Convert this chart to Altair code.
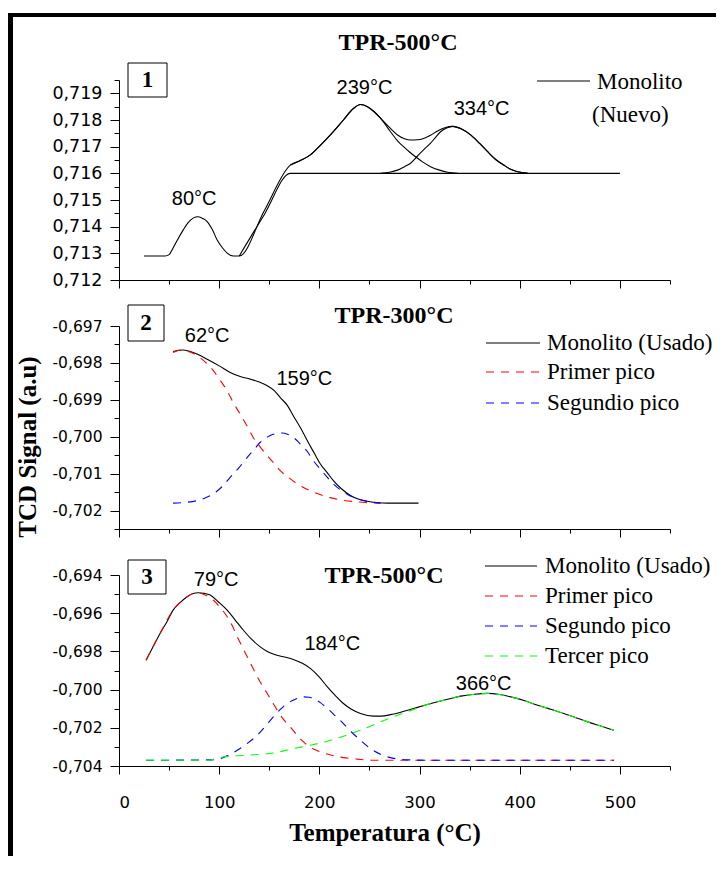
import altair as alt
import pandas as pd

# ---------------- data ----------------
# Panel 1: TPR-500°C, Monolito (Nuevo)
p1_total_T = [25, 46, 50, 54, 59, 64, 69, 74, 79, 84, 88, 93, 98, 103, 108, 114, 120, 145, 171,
              181, 191, 201, 211, 224, 234, 241, 248, 255, 261, 270, 278, 285, 291, 298, 304,
              311, 318, 326, 333, 342, 351, 360, 368, 376, 384, 391, 398, 408]
p1_total_V = [0.7129, 0.7129, 0.71295, 0.7132, 0.71355, 0.71387, 0.71415, 0.71432, 0.71437, 0.71430,
              0.71419, 0.71390, 0.7135, 0.71322, 0.71301, 0.7129, 0.7129, 0.71460, 0.71631,
              0.71648, 0.71669, 0.71705, 0.71744, 0.71800, 0.71843, 0.71858, 0.71850, 0.71830,
              0.71807, 0.71772, 0.71744, 0.71730, 0.71725, 0.71726, 0.71731, 0.71743, 0.71759,
              0.71772, 0.71776, 0.71766, 0.71744, 0.71712, 0.71681, 0.71652, 0.71631, 0.71615,
              0.71606, 0.7160]
p1_base_T = [120, 145, 171, 500]
p1_base_V = [0.7129, 0.71445, 0.7160, 0.7160]
p1_g1_T = [171, 181, 191, 201, 211, 224, 234, 241, 248, 255, 261, 271, 278, 284, 290, 296, 303,
           311, 320, 328, 338]
p1_g1_V = [0.71631, 0.71648, 0.71669, 0.71705, 0.71744, 0.71800, 0.71843, 0.71858, 0.71850,
           0.71830, 0.71807, 0.71756, 0.71722, 0.71700, 0.71680, 0.71662, 0.71643, 0.71625,
           0.71612, 0.71604, 0.7160]
p1_g2_T = [261, 270, 278, 285, 291, 298, 304, 311, 316, 321, 327, 333, 342, 351, 360, 368, 376,
           384, 391, 398, 408]
p1_g2_V = [0.7160, 0.71604, 0.71612, 0.71625, 0.71638, 0.71665, 0.71688, 0.71713, 0.71735,
           0.71756, 0.71770, 0.71776, 0.71766, 0.71744, 0.71712, 0.71681, 0.71652, 0.71631,
           0.71615, 0.71606, 0.7160]
p1_labels = ["80°C", "239°C", "334°C"]
p1_label_T = [75, 245, 362]
p1_label_V = [0.71504, 0.7192, 0.71841]

# Panel 2: TPR-300°C, Monolito (Usado)
p2_total_T = [54, 64, 76, 88, 100, 111, 121, 131, 140, 148, 155, 161, 168, 174, 181, 188, 195,
              201, 208, 214, 222, 231, 240, 248, 258, 268, 299]
p2_total_V = [-0.69769, -0.69765, -0.69774, -0.6979, -0.69808, -0.69826, -0.69837, -0.69844,
              -0.69852, -0.69862, -0.69875, -0.69894, -0.69915, -0.69943, -0.69975, -0.70011,
              -0.70045, -0.70074, -0.70098, -0.70119, -0.70141, -0.70159, -0.70170, -0.70175,
              -0.70179, -0.7018, -0.7018]
p2_red_T = [54, 62, 68, 75, 81, 87, 93, 100, 108, 114, 121, 128, 134, 141, 148, 155, 161, 170,
            178, 186, 194, 207, 221, 240, 261]
p2_red_V = [-0.69772, -0.69765, -0.69768, -0.69775, -0.69786, -0.69800, -0.69817, -0.69843,
            -0.69876, -0.69907, -0.69939, -0.69972, -0.70002, -0.70028, -0.70051, -0.70073,
            -0.70092, -0.70112, -0.70128, -0.7014, -0.7015, -0.70162, -0.70171, -0.70177, -0.7018]
p2_blue_T = [54, 66, 78, 86, 94, 103, 111, 120, 128, 135, 141, 150, 158, 163, 168, 175, 181, 188,
             194, 201, 208, 214, 221, 229, 238, 248, 261]
p2_blue_V = [-0.7018, -0.70178, -0.70173, -0.70166, -0.70155, -0.70135, -0.7011, -0.70083,
             -0.70056, -0.70034, -0.70015, -0.69998, -0.69991, -0.69990, -0.69993, -0.70004,
             -0.7002, -0.7004, -0.70065, -0.70088, -0.7011, -0.70128, -0.70144, -0.70158,
             -0.70168, -0.70175, -0.7018]
p2_labels = ["62°C", "159°C"]
p2_label_T = [88, 185]
p2_label_V = [-0.69727, -0.69843]

# Panel 3: TPR-500°C, Monolito (Usado)
p3_total_T = [27, 34, 41, 48, 54, 61, 68, 74, 79, 85, 91, 99, 108, 116, 124, 132, 141, 148, 154,
              164, 174, 183, 191, 200, 208, 216, 224, 232, 241, 254, 262, 271, 282, 294, 306, 318,
              330, 341, 355, 368, 380, 391, 405, 418, 431, 444, 456, 468, 481, 494]
p3_total_V = [-0.69846, -0.69776, -0.69706, -0.69643, -0.69584, -0.69545, -0.69514, -0.69497,
              -0.69493, -0.69496, -0.69505, -0.69540, -0.69584, -0.69636, -0.69688, -0.69735,
              -0.69776, -0.69800, -0.69814, -0.69828, -0.69842, -0.69862, -0.69889, -0.69935,
              -0.69986, -0.70032, -0.70073, -0.70103, -0.70125, -0.70139, -0.70139, -0.70131,
              -0.70117, -0.70099, -0.70081, -0.70064, -0.70048, -0.70034, -0.70024, -0.7002,
              -0.70026, -0.70038, -0.70058, -0.70082, -0.70103, -0.70125, -0.70147, -0.70169,
              -0.70191, -0.70213]
p3_red_T = [27, 41, 54, 68, 74, 79, 86, 94, 101, 108, 113, 118, 123, 128, 133, 138, 143, 148, 153,
            158, 164, 171, 179, 188, 196, 204, 214, 224, 238, 254, 494]
p3_red_V = [-0.69846, -0.69706, -0.69584, -0.69514, -0.69497, -0.69493, -0.69505, -0.69531,
            -0.69570, -0.69619, -0.69665, -0.69723, -0.69776, -0.69828, -0.6988, -0.69933,
            -0.69978, -0.7002, -0.70065, -0.70108, -0.70155, -0.70195, -0.70247, -0.70291,
            -0.70315, -0.70332, -0.70346, -0.70356, -0.70364, -0.7037, -0.7037]
p3_blue_T = [27, 90, 101, 110, 118, 128, 138, 146, 154, 161, 168, 176, 184, 190, 194, 201, 208,
             216, 224, 232, 241, 250, 261, 270, 278, 292, 311, 494]
p3_blue_V = [-0.7037, -0.70368, -0.70361, -0.70342, -0.70318, -0.70282, -0.70239, -0.70193,
             -0.70143, -0.70104, -0.70073, -0.70050, -0.70038, -0.70040, -0.70047, -0.70068,
             -0.70099, -0.70138, -0.70178, -0.70222, -0.70265, -0.70305, -0.70339, -0.70355,
             -0.70363, -0.70368, -0.7037, -0.7037]
p3_green_T = [27, 88, 104, 128, 154, 174, 191, 208, 224, 241, 261, 278, 294, 306, 318, 330, 341,
              355, 368, 380, 391, 405, 418, 431, 444, 456, 468, 481, 494]
p3_green_V = [-0.7037, -0.7037, -0.70353, -0.70344, -0.70332, -0.70309, -0.70291, -0.7027,
              -0.70244, -0.70213, -0.70169, -0.70134, -0.70104, -0.70081, -0.70064, -0.70048,
              -0.70034, -0.70024, -0.7002, -0.70026, -0.70038, -0.70058, -0.70082, -0.70103,
              -0.70125, -0.70147, -0.70169, -0.70191, -0.70213]
p3_labels = ["79°C", "184°C", "366°C"]
p3_label_T = [97, 213, 364]
p3_label_V = [-0.69426, -0.69762, -0.69972]

panel_titles = ["TPR-500°C", "TPR-300°C", "TPR-500°C"]
panel_numbers = ["1", "2", "3"]
legend1 = ["Monolito", "(Nuevo)"]
legend2 = ["Monolito (Usado)", "Primer pico", "Segundio pico"]
legend3 = ["Monolito (Usado)", "Primer pico", "Segundo pico", "Tercer pico"]
y_title = "TCD Signal (a.u)"
x_title = "Temperatura (°C)"
x_ticks = list(range(0, 551, 50))

# ---------------- styling ----------------
RED, BLUE, GREEN, BLACK = "#ff0000", "#0000ff", "#00ff00", "#000000"
SERIF = "Liberation Serif"
SANS = "Liberation Sans"
TICKF = "DejaVu Sans"
W = 551
DASH = [8, 7]
LEG = 23
TITLE = 24

one = pd.DataFrame({"a": [0]})


def x_enc(show_labels):
    ax = alt.Axis(
        values=x_ticks,
        title=None,
        grid=False,
        labels=show_labels,
        labelExpr="datum.value % 100 == 0 ? datum.label : ''",
        labelFont=TICKF,
        labelFontSize=16.5,
        labelPadding=20,
        labelColor="black",
        tickSize={"condition": {"test": "datum.value % 100 == 0", "value": 8}, "value": 4},
        tickColor="black",
        domainColor="black",
    )
    return alt.X("T:Q", scale=alt.Scale(domain=[0, 550], nice=False, zero=False), axis=ax)


def y_enc(domain, vals, label_test, neg, fsize):
    sign = "'-' + " if neg else ""
    ax = alt.Axis(
        values=vals,
        title=None,
        grid=False,
        labelExpr=f"({label_test}) ? {sign}replace(format(abs(datum.value), '.3f'), '.', ',') : ''",
        labelFont=TICKF,
        labelFontSize=fsize,
        labelPadding=8,
        labelColor="black",
        tickSize={"condition": {"test": label_test, "value": 9}, "value": 5},
        tickColor="black",
        domainColor="black",
    )
    return alt.Y("V:Q", scale=alt.Scale(domain=domain, nice=False, zero=False), axis=ax)


def line(T, V, xe, ye, color, dash=False, width=1.1):
    df = pd.DataFrame({"T": T, "V": V})
    kw = dict(color=color, strokeWidth=width, interpolate="monotone")
    if dash:
        kw["strokeDash"] = DASH
    return alt.Chart(df).mark_line(**kw).encode(x=xe, y=ye)


def peak_labels(labels, T, V, xe, ye):
    df = pd.DataFrame({"T": T, "V": V, "lab": labels})
    return alt.Chart(df).mark_text(font=SANS, fontSize=20, color="black", baseline="middle").encode(
        x=xe, y=ye, text="lab:N")


def txt(s, x, y, size, bold=False, font=SERIF, align="center", angle=0):
    kw = dict(font=font, fontSize=size, color="black", align=align, baseline="middle")
    if bold:
        kw["fontWeight"] = "bold"
    if angle:
        kw["angle"] = angle
    return alt.Chart(one).mark_text(**kw).encode(x=alt.value(x), y=alt.value(y), text=alt.value(s))


def box(x1, x2, y1, y2):
    return alt.Chart(one).mark_rect(fill="white", stroke="black", strokeWidth=1).encode(
        x=alt.value(x1), x2=alt.value(x2), y=alt.value(y1), y2=alt.value(y2))


def band(x1, x2, y1, y2):
    return alt.Chart(one).mark_rect(fill="black", strokeWidth=0).encode(
        x=alt.value(x1), x2=alt.value(x2), y=alt.value(y1), y2=alt.value(y2))


def seg(x1, x2, y, color, dash=False, width=1.1):
    kw = dict(color=color, strokeWidth=width)
    if dash:
        kw["strokeDash"] = DASH
    return alt.Chart(one).mark_rule(**kw).encode(x=alt.value(x1), x2=alt.value(x2), y=alt.value(y))


# ---------------- panel 1 ----------------
xe1 = x_enc(False)
ye1 = y_enc([0.712, 0.7195], [round(0.712 + 0.0005 * i, 4) for i in range(16)],
            "round(datum.value*10000) % 10 == 0", False, 17.5)
p1 = alt.layer(
    line(p1_base_T, p1_base_V, xe1, ye1, BLACK),
    line(p1_g1_T, p1_g1_V, xe1, ye1, BLACK),
    line(p1_g2_T, p1_g2_V, xe1, ye1, BLACK),
    line(p1_total_T, p1_total_V, xe1, ye1, BLACK),
    peak_labels(p1_labels, p1_label_T, p1_label_V, xe1, ye1),
    box(9, 48, -17, 17),
    txt(panel_numbers[0], 28.5, 0, 23, bold=True),
    txt(panel_titles[0], 279, -37, TITLE, bold=True),
    seg(418, 471, 1, BLACK),
    txt(legend1[0], 478, 2, LEG, align="left"),
    txt(legend1[1], 473, 35, LEG, align="left"),
    # outer frame (top and left edges)
    band(-111, 597, -67, -63),
    band(-111, -106, -67, 776),
).properties(width=W, height=200)

# ---------------- panel 2 ----------------
xe2 = x_enc(False)
ye2 = y_enc([-0.7025, -0.697], [round(-0.7025 + 0.0005 * i, 4) for i in range(12)],
            "round(abs(datum.value)*10000) % 10 == 0", True, 15.5)
p2 = alt.layer(
    line(p2_total_T, p2_total_V, xe2, ye2, BLACK),
    line(p2_red_T, p2_red_V, xe2, ye2, RED, dash=True),
    line(p2_blue_T, p2_blue_V, xe2, ye2, BLUE, dash=True),
    peak_labels(p2_labels, p2_label_T, p2_label_V, xe2, ye2),
    box(9, 45, -21, 15),
    txt(panel_numbers[1], 27, -3, 23, bold=True),
    txt(panel_titles[1], 275, -10, TITLE, bold=True),
    seg(367, 421, 17, BLACK),
    seg(367, 421, 46, RED, dash=True),
    seg(367, 421, 77, BLUE, dash=True),
    txt(legend2[0], 428, 17, LEG, align="left"),
    txt(legend2[1], 428, 46, LEG, align="left"),
    txt(legend2[2], 428, 77, LEG, align="left"),
    txt(y_title, -91, 121, 25, bold=True, angle=270),
).properties(width=W, height=203)

# ---------------- panel 3 ----------------
xe3 = x_enc(True)
ye3 = y_enc([-0.704, -0.694], [round(-0.704 + 0.001 * i, 3) for i in range(11)],
            "round(abs(datum.value)*1000) % 2 == 0", True, 15.5)
p3 = alt.layer(
    line(p3_total_T, p3_total_V, xe3, ye3, BLACK),
    line(p3_red_T, p3_red_V, xe3, ye3, RED, dash=True),
    line(p3_blue_T, p3_blue_V, xe3, ye3, BLUE, dash=True),
    line(p3_green_T, p3_green_V, xe3, ye3, GREEN, dash=True),
    peak_labels(p3_labels, p3_label_T, p3_label_V, xe3, ye3),
    box(9, 47, -15, 19),
    txt(panel_numbers[2], 28, 2, 23, bold=True),
    txt(panel_titles[2], 265, 1, TITLE, bold=True),
    seg(366, 418, -9, BLACK),
    seg(366, 418, 21, RED, dash=True),
    seg(366, 418, 51, BLUE, dash=True),
    seg(366, 418, 81, GREEN, dash=True),
    txt(legend3[0], 426, -9, LEG, align="left"),
    txt(legend3[1], 426, 21, LEG, align="left"),
    txt(legend3[2], 426, 51, LEG, align="left"),
    txt(legend3[3], 426, 81, LEG, align="left"),
    txt(x_title, 266, 258, 25, bold=True),
).properties(width=W, height=191)

chart = alt.vconcat(p1, p2, p3, spacing=46, bounds="flush").properties(
    padding={"left": 0, "top": 5, "right": 0, "bottom": 0}
).configure_view(strokeWidth=0).configure_axis(domainWidth=1, tickWidth=1)

chart.save("out.html", embed_options={"renderer": "svg", "actions": False})
